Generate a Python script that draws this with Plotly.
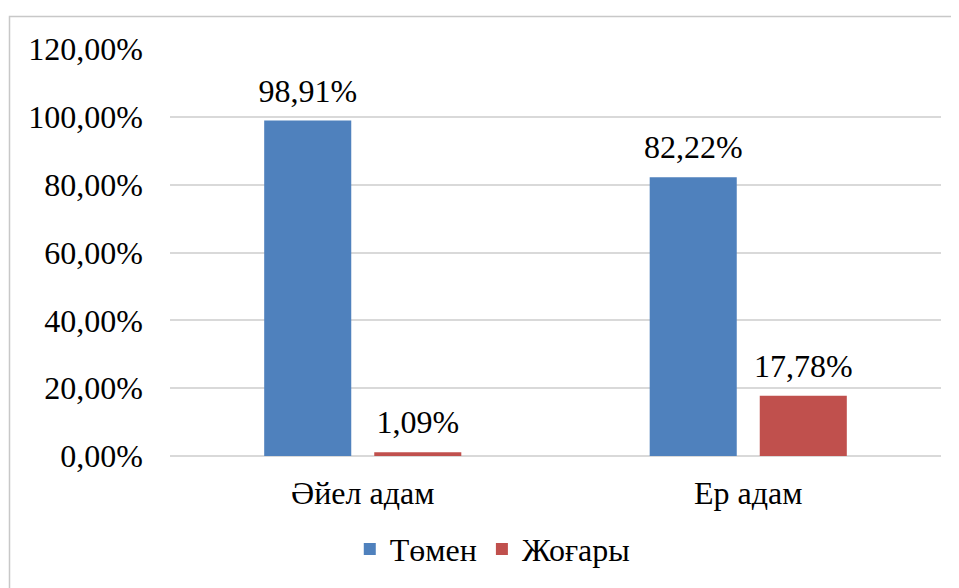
import plotly.graph_objects as go

categories = ["Әйел адам", "Ер адам"]
series_names = ["Төмен", "Жоғары"]
tomen_values = [98.91, 82.22]
zhogary_values = [1.09, 17.78]
colors = ["#4F81BD", "#C0504D"]
y_ticks = [0, 20, 40, 60, 80, 100, 120]

def fmt(v):
    return f"{v:.2f}%".replace(".", ",")

FONT = "Liberation Serif, Times New Roman, serif"
FS = 32
fig = go.Figure()
for i, (name, vals, col) in enumerate(zip(series_names, [tomen_values, zhogary_values], colors)):
    fig.add_trace(go.Bar(
        x=categories, y=vals, name=name, marker_color=col,
        marker_line_width=0, offsetgroup=str(i),
    ))
for i, (name, vals) in enumerate(zip(series_names, [tomen_values, zhogary_values])):
    fig.add_trace(go.Scatter(
        x=categories, y=vals, mode="markers+text", offsetgroup=str(i),
        marker=dict(size=16, opacity=0), showlegend=False, hoverinfo="skip",
        text=[fmt(v) for v in vals], textposition="top center",
        textfont=dict(family=FONT, size=FS, color="black"),
        cliponaxis=False,
    ))

fig.update_layout(
    width=959, height=588,
    margin=dict(l=162, r=26, t=41, b=140),
    paper_bgcolor="white", plot_bgcolor="white",
    barmode="group", bargap=0.429, bargroupgap=0.209,
    scattermode="group", scattergap=0.429,
    font=dict(family=FONT, size=FS, color="black"),
    showlegend=True,
    legend=dict(orientation="h", x=0.418, xanchor="center", y=-0.229, yanchor="middle",
                font=dict(family=FONT, size=FS), itemwidth=30, traceorder="normal"),
    xaxis=dict(showgrid=False, showline=False, ticks="", ticklabelstandoff=15,
               tickfont=dict(family=FONT, size=FS)),
    yaxis=dict(range=[0, 120], tickvals=y_ticks, ticktext=[fmt(v) for v in y_ticks],
               showgrid=True, gridcolor="#d9d9d9", gridwidth=1.5,
               zeroline=True, zerolinecolor="#d9d9d9", zerolinewidth=1.5,
               showline=False, ticks="", ticklabelstandoff=26,
               tickfont=dict(family=FONT, size=FS)),
)
fig.add_shape(type="rect", xref="paper", yref="paper",
              x0=(9.5 - 170) / 771, x1=(962 - 170) / 771,
              y0=(456 - 592) / 407, y1=1 + (49 - 16.5) / 407,
              line=dict(color="#c8c8c8", width=1.5), fillcolor="rgba(0,0,0,0)", layer="below")
fig.write_html("out.html")
